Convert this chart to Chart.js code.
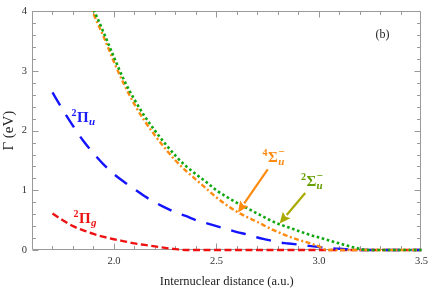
<!DOCTYPE html>
<html>
<head>
<meta charset="utf-8">
<script src="https://cdn.jsdelivr.net/npm/chart.js@4.4.1/dist/chart.umd.min.js"></script>
<style>
  html, body { margin: 0; padding: 0; background: #ffffff; }
  #c { display: block; }
</style>
</head>
<body>
<canvas id="c" width="433" height="290"></canvas>
<script>
// ---------- data ----------
const piGX = [1.70, 1.75, 1.80, 1.85, 1.90, 1.95, 2.00, 2.05, 2.10, 2.15, 2.20, 2.25, 2.30, 2.35, 2.50, 3.00, 3.50];
const piGY = [0.61, 0.50, 0.40, 0.33, 0.27, 0.22, 0.18, 0.145, 0.11, 0.085, 0.06, 0.035, 0.015, 0.0, 0.0, 0.0, 0.0];

const piUX = [1.70, 1.75, 1.80, 1.85, 1.90, 1.95, 2.00, 2.05, 2.10, 2.15, 2.20, 2.25, 2.30, 2.35, 2.40, 2.45, 2.50, 2.55, 2.60, 2.65, 2.70, 2.75, 2.80, 2.85, 2.90, 2.95, 3.00, 3.05, 3.10, 3.15, 3.20, 3.35, 3.50];
const piUY = [2.64, 2.35, 2.08, 1.83, 1.62, 1.43, 1.27, 1.14, 1.02, 0.90, 0.80, 0.71, 0.63, 0.57, 0.50, 0.45, 0.40, 0.35, 0.30, 0.26, 0.21, 0.17, 0.13, 0.11, 0.09, 0.07, 0.05, 0.03, 0.02, 0.01, 0.0, 0.0, 0.0];

const sig4X = [1.88, 1.90, 1.95, 2.00, 2.05, 2.10, 2.15, 2.20, 2.25, 2.30, 2.35, 2.40, 2.45, 2.50, 2.55, 2.60, 2.65, 2.70, 2.75, 2.80, 2.85, 2.90, 2.95, 3.00, 3.04, 3.25, 3.50];
const sig4Y = [4.14, 3.96, 3.57, 3.15, 2.77, 2.44, 2.16, 1.92, 1.70, 1.50, 1.33, 1.18, 1.03, 0.88, 0.75, 0.64, 0.55, 0.47, 0.38, 0.30, 0.23, 0.17, 0.12, 0.06, 0.0, 0.0, 0.0];

const sig2X = [1.89, 1.90, 1.95, 2.00, 2.05, 2.10, 2.15, 2.20, 2.25, 2.30, 2.35, 2.40, 2.45, 2.50, 2.55, 2.60, 2.65, 2.70, 2.75, 2.80, 2.85, 2.90, 2.95, 3.00, 3.05, 3.10, 3.15, 3.20, 3.23, 3.35, 3.50];
const sig2Y = [4.10, 4.03, 3.64, 3.23, 2.84, 2.52, 2.24, 2.00, 1.78, 1.58, 1.41, 1.27, 1.14, 1.00, 0.89, 0.79, 0.70, 0.61, 0.52, 0.44, 0.38, 0.32, 0.26, 0.21, 0.16, 0.11, 0.06, 0.02, 0.0, 0.0, 0.0];

const xTickLabels = [2.0, 2.5, 3.0, 3.5];
const xMinorTicks = [1.7, 1.8, 1.9, 2.0, 2.1, 2.2, 2.3, 2.4, 2.5, 2.6, 2.7, 2.8, 2.9, 3.0, 3.1, 3.2, 3.3, 3.4];
const yTickLabels = [0, 1, 2, 3, 4];
const yMinorTicks = [0.2, 0.4, 0.6, 0.8, 1.2, 1.4, 1.6, 1.8, 2.2, 2.4, 2.6, 2.8, 3.2, 3.4, 3.6, 3.8];

// annotation anchors (data units)
const labelPiU = { x: 1.793, y: 2.14 };
const labelPiG = { x: 1.803, y: 0.46 };
const labelS4  = { x: 2.725, y: 1.47 };
const labelS2  = { x: 2.912, y: 1.07 };
const arrowS4  = { x0: 2.75, y0: 1.35, x1: 2.605, y1: 0.63 };
const arrowS2  = { x0: 2.933, y0: 0.955, x1: 2.808, y1: 0.445 };
const panelTag = { x: 3.31, y: 3.6, text: '(b)' };

// ---------- helpers ----------
const pts = (xs, ys) => xs.map((x, i) => ({ x: x, y: ys[i] }));
const SERIF = '"Liberation Serif", "Times New Roman", Times, serif';

const FRAME = '#9a9a9a';

const framePlugin = {
  id: 'frame',
  beforeDatasetsDraw(chart) {
    const { ctx, chartArea: a, scales: { x, y } } = chart;
    ctx.save();
    ctx.strokeStyle = FRAME;
    ctx.lineWidth = 1;
    const L = Math.round(a.left) + 0.5, R = Math.round(a.right) - 0.5;
    const T = Math.round(a.top) + 0.5, B = Math.round(a.bottom) - 0.5;
    ctx.beginPath();
    ctx.rect(L, T, R - L, B - T);
    ctx.stroke();
    ctx.beginPath();
    xMinorTicks.forEach(v => {
      const px = Math.round(x.getPixelForValue(v)) + 0.5;
      const len = xTickLabels.includes(v) ? 6 : 3.5;
      ctx.moveTo(px, B); ctx.lineTo(px, B - len);
      ctx.moveTo(px, T); ctx.lineTo(px, T + len);
    });
    yTickLabels.concat(yMinorTicks).forEach(v => {
      const py = Math.round(y.getPixelForValue(v)) + 0.5;
      const len = yTickLabels.includes(v) ? 6 : 3.5;
      ctx.moveTo(L, py); ctx.lineTo(L + len, py);
      ctx.moveTo(R, py); ctx.lineTo(R - len, py);
    });
    ctx.stroke();
    ctx.restore();
  },
  afterDatasetsDraw(chart) {
    const { ctx, scales: { x, y } } = chart;
    ctx.save();
    ctx.textBaseline = 'alphabetic';
    ctx.textAlign = 'left';

    function rich(anchor, color, sup, main, sub, supAfter) {
      let px = x.getPixelForValue(anchor.x);
      const py = y.getPixelForValue(anchor.y);
      ctx.fillStyle = color;
      ctx.font = 'bold 10px ' + SERIF;
      ctx.fillText(sup, px, py - 6);
      px += ctx.measureText(sup).width + 0.5;
      ctx.font = 'bold 15px ' + SERIF;
      ctx.fillText(main, px, py);
      px += ctx.measureText(main).width + 0.3;
      ctx.font = 'italic bold 11px ' + SERIF;
      ctx.fillText(sub, px, py + 3);
      if (supAfter) {
        ctx.font = 'bold 11px ' + SERIF;
        ctx.fillText(supAfter, px, py - 7);
      }
    }
    rich(labelPiU, '#1a1aff', '2', 'Π', 'u');
    rich(labelPiG, '#ee1111', '2', 'Π', 'g');
    rich(labelS4, '#ff8a10', '4', 'Σ', 'u', '−');
    rich(labelS2, '#66a000', '2', 'Σ', 'u', '−');

    function arrow(a, color) {
      const x0 = x.getPixelForValue(a.x0), y0 = y.getPixelForValue(a.y0);
      const x1 = x.getPixelForValue(a.x1), y1 = y.getPixelForValue(a.y1);
      const ang = Math.atan2(y1 - y0, x1 - x0);
      const head = 11, hw = 5;
      const bx = x1 - head * Math.cos(ang), by = y1 - head * Math.sin(ang);
      ctx.strokeStyle = color; ctx.fillStyle = color;
      ctx.lineWidth = 2.2; ctx.lineCap = 'butt';
      ctx.beginPath(); ctx.moveTo(x0, y0); ctx.lineTo(bx, by); ctx.stroke();
      ctx.beginPath();
      ctx.moveTo(x1, y1);
      ctx.lineTo(bx + hw * Math.sin(ang), by - hw * Math.cos(ang));
      ctx.lineTo(bx + 2 * Math.cos(ang), by + 2 * Math.sin(ang));
      ctx.lineTo(bx - hw * Math.sin(ang), by + hw * Math.cos(ang));
      ctx.closePath(); ctx.fill();
    }
    arrow(arrowS4, '#ff8a10');
    arrow(arrowS2, '#aaaa00');

    ctx.fillStyle = '#222';
    ctx.font = '12px ' + SERIF;
    ctx.textAlign = 'center';
    ctx.textBaseline = 'middle';
    ctx.fillText(panelTag.text, x.getPixelForValue(panelTag.x), y.getPixelForValue(panelTag.y));
    ctx.restore();
  }
};

const clipBox = { left: 2, top: 0, right: 2, bottom: 3 };

new Chart(document.getElementById('c'), {
  type: 'line',
  data: {
    datasets: [
      { label: '2Πg', data: pts(piGX, piGY), borderColor: '#ee1111', borderWidth: 2.4,
        borderDash: [7, 3.5], cubicInterpolationMode: 'monotone', pointRadius: 0, order: 4, clip: clipBox },
      { label: '2Πu', data: pts(piUX, piUY), borderColor: '#1414ff', borderWidth: 2.4,
        borderDash: [15, 11], cubicInterpolationMode: 'monotone', pointRadius: 0, order: 3, clip: clipBox },
      { label: '4Σu-', data: pts(sig4X, sig4Y), borderColor: '#ff8a10', borderWidth: 2.4,
        borderDash: [5, 2.5, 2, 2.5], cubicInterpolationMode: 'monotone', pointRadius: 0, order: 2, clip: clipBox },
      { label: '2Σu-', data: pts(sig2X, sig2Y), borderColor: '#10a810', borderWidth: 2.6,
        borderDash: [2.6, 2.6], cubicInterpolationMode: 'monotone', pointRadius: 0, order: 1, clip: clipBox }
    ]
  },
  options: {
    responsive: false,
    animation: false,
    devicePixelRatio: 1,
    layout: { padding: { top: 7, right: 9, left: 0, bottom: 0 } },
    plugins: { legend: { display: false }, tooltip: { enabled: false } },
    scales: {
      x: {
        type: 'linear', min: 1.6, max: 3.5,
        grid: { display: false, drawTicks: false },
        border: { display: false },
        afterBuildTicks: s => { s.ticks = xTickLabels.map(v => ({ value: v })); },
        afterFit: s => { s.height = 40; },
        ticks: { font: { family: SERIF, size: 10.5 }, color: '#333', padding: 5, maxRotation: 0,
                 callback: v => Number(v).toFixed(1) },
        title: { display: true, text: 'Internuclear distance (a.u.)', color: '#222',
                 font: { family: SERIF, size: 12.5 }, padding: { top: 0, bottom: 1 } }
      },
      y: {
        type: 'linear', min: 0, max: 4,
        grid: { display: false, drawTicks: false },
        border: { display: false },
        afterBuildTicks: s => { s.ticks = yTickLabels.map(v => ({ value: v })); },
        afterFit: s => { s.width = 32; },
        ticks: { font: { family: SERIF, size: 10.5 }, color: '#333', padding: 5,
                 callback: v => String(v) },
        title: { display: true, text: 'Γ (eV)', color: '#222',
                 font: { family: SERIF, size: 15 }, padding: { top: 0, bottom: 0 } }
      }
    }
  },
  plugins: [framePlugin]
});
</script>
</body>
</html>
